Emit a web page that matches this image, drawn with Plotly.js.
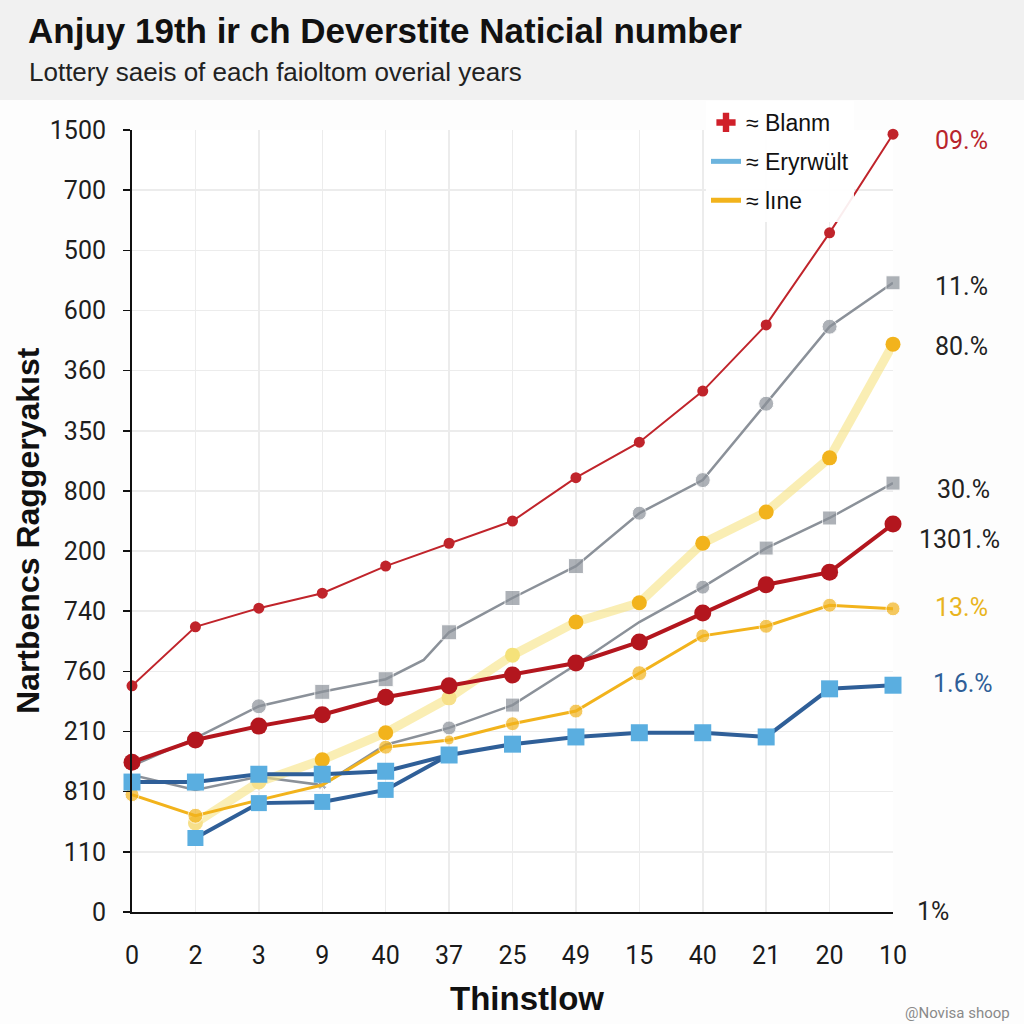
<!DOCTYPE html>
<html>
<head>
<meta charset="utf-8">
<script src="https://cdn.plot.ly/plotly-3.0.1.min.js"></script>
<style>
html,body{margin:0;padding:0;background:#fdfdfd;}
#chart{width:1024px;height:1024px;}
</style>
</head>
<body>
<div id="chart"></div>
<script>
// Category positions (x ticks) and labels
const xIdx = [0,1,2,3,4,5,6,7,8,9,10,11,12];
const xLabels = ['0','2','3','9','40','37','25','49','15','40','21','20','10'];
const yIdx = [0,1,2,3,4,5,6,7,8,9,10,11,12,13];
const yLabels = ['0','110','810','210','760','740','200','800','350','360','600','500','700','1500'];

// Series values (in axis tick units)
const redThin   = [3.76,4.74,5.05,5.30,5.75,6.13,6.50,7.22,7.81,8.66,9.76,11.29,12.93];
const grayUpX   = [0,1,2,3,4,4.6,5,6,7,8,9,10,11,12];
const grayUp    = [2.43,2.89,3.42,3.66,3.87,4.19,4.65,5.22,5.75,6.63,7.18,8.45,9.73,10.46];
const grayLow   = [2.28,2.03,2.25,2.11,2.78,3.06,3.44,4.11,4.82,5.40,6.05,6.55,7.13];
const redThick  = [2.49,2.86,3.09,3.28,3.57,3.76,3.94,4.14,4.49,4.97,5.44,5.65,6.45];
const paleX     = [1,2,3,4,5,6,7,8,9,10,11,12];
const paleYel   = [1.48,2.16,2.53,2.98,3.56,4.27,4.82,5.14,6.13,6.65,7.55,9.44];
const orangeYel = [1.95,1.60,1.86,2.11,2.74,2.86,3.13,3.34,3.97,4.59,4.75,5.10,5.04];
const blueUp    = [2.16,2.16,2.29,2.29,2.34,2.61,2.79,2.91,2.98,2.98,2.91,3.71,3.77];
const blueLowX  = [1,2,3,4,5];
const blueLow   = [1.23,1.81,1.83,2.03,2.61];

const endLabels = ['09.%','11.%','80.%','30.%','1301.%','13.%','1.6.%','1%'];
const legendNames = ['≈ Blanm','≈ Eryrwült','≈ lıne'];

const RED='#c0242b', RED2='#b3161e', GRAY='#8b9199', PALE='rgba(247,226,130,0.6)',
      ORANGE='#f2b31c', BLUEL='#2f5f98', BLUEM='#5aaee0';

const traces = [
  {x:xIdx, y:redThin, mode:'lines+markers', line:{color:RED,width:2},
   marker:{color:RED,size:11,symbol:'circle'}, showlegend:false, cliponaxis:false},
  {x:grayUpX, y:grayUp, mode:'lines+markers', line:{color:GRAY,width:2.5},
   marker:{color:GRAY,size:[0,0,15,15,15,0,15,15,15,14,15,15,15,14],
     symbol:['circle','circle','circle','square','square','circle','square','square','square','circle','circle','circle','circle','square']},
   showlegend:false, cliponaxis:false},
  {x:xIdx, y:grayLow, mode:'lines+markers', line:{color:GRAY,width:2.5},
   marker:{color:GRAY,size:[0,0,0,8,0,14,14,0,0,14,14,14,14],
     symbol:['circle','circle','circle','x','circle','circle','square','circle','circle','circle','square','square','square']},
   showlegend:false, cliponaxis:false},
  {x:paleX, y:paleYel, mode:'lines+markers', line:{color:PALE,width:9},
   marker:{color:['#f7e08a','#f7e08a',ORANGE,ORANGE,'#f7e08a','#f5e27a',ORANGE,ORANGE,ORANGE,ORANGE,ORANGE,ORANGE],size:15},
   showlegend:false, cliponaxis:false},
  {x:xIdx, y:orangeYel, mode:'lines+markers', line:{color:ORANGE,width:3},
   marker:{color:ORANGE,size:[14,15,0,0,14,10,14,14,15,14,14,14,14]},
   showlegend:false, cliponaxis:false},
  {x:xIdx, y:redThick, mode:'lines+markers', line:{color:RED2,width:4},
   marker:{color:RED2,size:17}, showlegend:false, cliponaxis:false},
  {x:blueLowX, y:blueLow, mode:'lines+markers', line:{color:BLUEL,width:4},
   marker:{color:BLUEM,size:16,symbol:'square'}, showlegend:false, cliponaxis:false},
  {x:xIdx, y:blueUp, mode:'lines+markers', line:{color:BLUEL,width:4},
   marker:{color:BLUEM,size:17,symbol:'square'}, showlegend:false, cliponaxis:false},
  // legend entries
  {x:[null], y:[null], mode:'markers', name:legendNames[0], legendgroup:'a',
   marker:{color:'#d0202a',symbol:'cross',size:16}},
  {x:[null], y:[null], mode:'lines', name:legendNames[1], legendgroup:'b', line:{color:'#6cb4de',width:5}},
  {x:[null], y:[null], mode:'lines', name:legendNames[2], legendgroup:'c', line:{color:ORANGE,width:5}}
];

const ends = [redThin[12], grayUp[13], paleYel[11], grayLow[12], redThick[12], orangeYel[12], blueUp[12], 0];
const endColors = ['#b8252c','#222','#222','#222','#222','#e9b420','#2f5f98','#222'];
const endShift = [-6,-4,-2,-6,-15,1,2,1];
const endX = [68,68,68,70,66,68,70,40];

const annotations = endLabels.map((t,i)=>({
  x:12, y:ends[i], xref:'x', yref:'y', text:t, showarrow:false,
  xanchor:'center', yanchor:'middle', xshift:endX[i], yshift:endShift[i],
  font:{family:'Roboto, Arial, sans-serif', size:25, color:endColors[i]}
}));

annotations.push(
  {xref:'paper', yref:'paper', x:(26-132)/761, y:(912-30)/782, xanchor:'left', yanchor:'middle',
   text:'<b>Anjuy 19th ir ch Deverstite Naticial number</b>', showarrow:false,
   font:{family:'Liberation Sans, Arial, sans-serif', size:35, color:'#111'}},
  {xref:'paper', yref:'paper', x:(27-132)/761, y:(912-72)/782, xanchor:'left', yanchor:'middle',
   text:'Lottery saeis of each faioltom overial years', showarrow:false,
   font:{family:'Liberation Sans, Arial, sans-serif', size:26, color:'#222'}},
  {xref:'paper', yref:'paper', x:(28-132)/761, y:(912-531)/782, xanchor:'center', yanchor:'middle',
   text:'<b>Nartbencs Raggeryakıst</b>', textangle:-90, showarrow:false,
   font:{family:'Liberation Sans, Arial, sans-serif', size:32, color:'#111'}},
  {xref:'paper', yref:'paper', x:(527-132)/761, y:(912-998)/782, xanchor:'center', yanchor:'middle',
   text:'<b>Thinstlow</b>', showarrow:false,
   font:{family:'Liberation Sans, Arial, sans-serif', size:33, color:'#111'}},
  {xref:'paper', yref:'paper', x:(1012-132)/761, y:(912-1013)/782, xanchor:'right', yanchor:'middle',
   text:'@Novisa shoop', showarrow:false,
   font:{family:'Roboto, Arial, sans-serif', size:15, color:'#8a8a8a'}}
);

const layout = {
  width:1024, height:1024,
  margin:{l:132, r:131, t:130, b:112},
  paper_bgcolor:'#fdfdfd', plot_bgcolor:'#ffffff',
  xaxis:{range:[0,12], tickmode:'array', tickvals:xIdx, ticktext:xLabels,
    showgrid:true, gridcolor:'#ececec', gridwidth:1.5, zeroline:false,
    showline:true, linecolor:'#111', linewidth:2, ticks:'',
    ticklabelstandoff:20, tickfont:{family:'Liberation Sans Narrow, Roboto, Arial, sans-serif', size:25, color:'#1a1a1a'}},
  yaxis:{range:[0,13], tickmode:'array', tickvals:yIdx, ticktext:yLabels,
    showgrid:true, gridcolor:'#ececec', gridwidth:1.5, zeroline:false,
    showline:true, linecolor:'#111', linewidth:2, ticks:'outside', ticklen:7, tickcolor:'#111', tickwidth:1.5,
    ticklabelstandoff:12, tickfont:{family:'Roboto, Arial, sans-serif', size:25, color:'#1e1e1e'}},
  legend:{x:(706-132)/761, y:(912-101)/782, xanchor:'left', yanchor:'top',
    bgcolor:'rgba(255,255,255,0.92)', font:{family:'Liberation Sans, Arial, sans-serif', size:23, color:'#111'},
    itemwidth:30, tracegroupgap:6},
  shapes:[{type:'rect', xref:'paper', yref:'paper', layer:'below',
    x0:-132/761, x1:(1024-132)/761, y0:(912-100)/782, y1:912/782,
    fillcolor:'#f1f1f1', line:{width:0}}],
  annotations:annotations,
  showlegend:true
};

Plotly.newPlot('chart', traces, layout, {displayModeBar:false, staticPlot:true});
</script>
</body>
</html>
